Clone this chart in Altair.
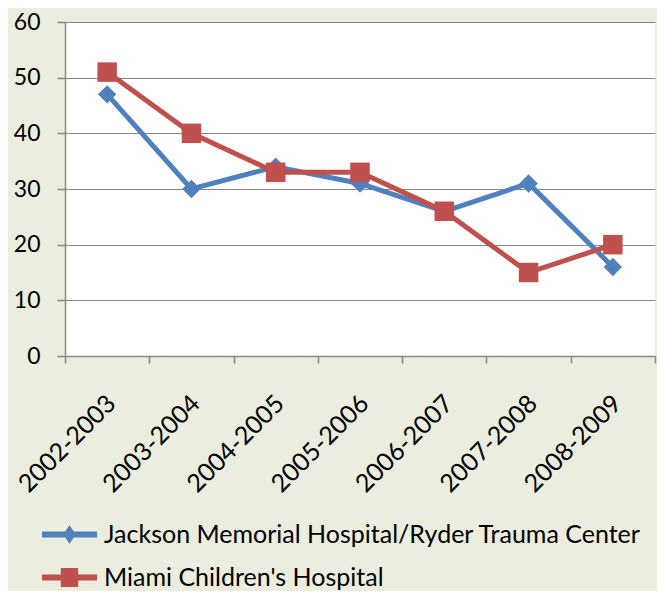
import altair as alt
import pandas as pd

periods = ["2002-2003", "2003-2004", "2004-2005", "2005-2006", "2006-2007", "2007-2008", "2008-2009"]
series = ["Jackson Memorial Hospital/Ryder Trauma Center", "Miami Children's Hospital"]
jackson = [47, 30, 34, 31, 26, 31, 16]
miami = [51, 40, 33, 33, 26, 15, 20]
colors = ["#4F81BD", "#C0504D"]
y_ticks = [0, 10, 20, 30, 40, 50, 60]

rows = []
for p, v in zip(periods, jackson):
    rows.append({"period": p, "value": v, "series": series[0]})
for p, v in zip(periods, miami):
    rows.append({"period": p, "value": v, "series": series[1]})
df = pd.DataFrame(rows)

FONT = "Lato"
GRAY = "#878787"

color_scale = alt.Scale(domain=series, range=colors)

x_enc = alt.X(
    "period:N", sort=periods, title=None,
    scale=alt.Scale(type="band", paddingInner=0, paddingOuter=0),
    bandPosition=0.5,
    axis=alt.Axis(labelAngle=-45, labelAlign="right", labelBaseline="middle",
                  tickBand="extent", tickSize=7, labelPadding=36, labelOffset=4,
                  labelFontSize=25, grid=False),
)
y_enc = alt.Y(
    "value:Q", title=None,
    scale=alt.Scale(domain=[0, 60], nice=False),
    axis=alt.Axis(values=y_ticks, grid=True, tickSize=8, labelPadding=17),
)

base = alt.Chart(df)

def series_layers(name, color, shape, size):
    d = base.transform_filter(alt.datum.series == name)
    ln = d.mark_line(strokeWidth=5, color=color).encode(x=x_enc, y=y_enc)
    pt = d.mark_point(filled=True, opacity=1, shape=shape, size=size, color=color).encode(x=x_enc, y=y_enc)
    return [ln, pt]

diamond_line = "M-3,-0.33L-0.47,-0.33L0,-1L0.47,-0.33L3,-0.33L3,0.33L0.47,0.33L0,1L-0.47,0.33L-3,0.33Z"
square_line = "M-3,-0.33L-0.95,-0.33L-0.95,-1.05L0.95,-1.05L0.95,-0.33L3,-0.33L3,0.33L0.95,0.33L0.95,1.05L-0.95,1.05L-0.95,0.33L-3,0.33Z"

legend_props = dict(
    orient="none", legendX=-8, legendY=500, direction="vertical", title=None,
    labelFont=FONT, labelFontSize=25, labelColor="#000000", labelLimit=0, symbolSize=336,
    symbolStrokeWidth=0, labelOffset=22, rowPadding=17, symbolOpacity=1,
)

legend_layer = base.mark_point(filled=True, size=0).encode(
    x=x_enc, y=y_enc,
    color=alt.Color("series:N", scale=color_scale, legend=alt.Legend(**legend_props)),
    shape=alt.Shape("series:N", scale=alt.Scale(domain=series, range=[diamond_line, square_line]),
                    legend=alt.Legend(**legend_props)),
)

layers = (series_layers(series[0], colors[0], "diamond", 340)
          + series_layers(series[1], colors[1], "square", 380)
          + [legend_layer])

chart = alt.layer(*layers).properties(
    width=590, height=334,
    autosize=alt.AutoSizeParams(type="none"),
    padding={"left": 57, "top": 14, "right": 2, "bottom": 235},
    background="#EBEEDE",
    view=alt.ViewBackground(fill="#FFFFFF", stroke=None),
).configure_axis(
    labelFont=FONT, labelFontSize=23, labelColor="#000000",
    domainColor=GRAY, tickColor=GRAY, gridColor=GRAY, domainWidth=1.5, tickWidth=1.5, gridWidth=1.2,
)

chart.save("out.html", embed_options={"renderer": "svg", "actions": False})
